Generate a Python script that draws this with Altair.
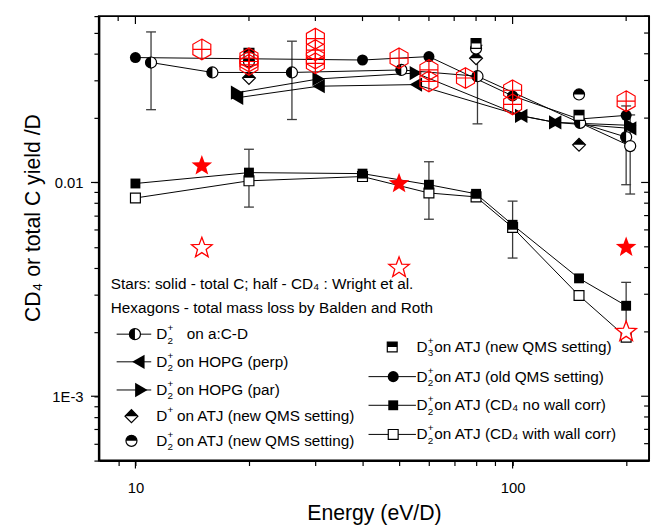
import math
import altair as alt
import pandas as pd

# ---------------- data ----------------
acd_E = [11, 16, 26, 50.7, 80.7, 151, 200]
acd_Y = [0.0364, 0.0327, 0.0327, 0.0336, 0.0314, 0.0190, 0.0163]
acd2_E = [151, 205]
acd2_Y = [0.0190, 0.0148]
old_E = [10, 40, 60, 100, 150, 200]
old_Y = [0.0384, 0.0374, 0.0388, 0.0254, 0.0198, 0.0206]
hopg_E = [18.6, 30.6, 55.4, 105.4, 129.7, 205]
perp_Y = [0.0249, 0.0282, 0.0287, 0.0205, 0.0191, 0.0179]
par_Y = [0.0263, 0.0305, 0.0325, 0.0205, 0.0191, 0.0185]
atj_E = [10, 20, 40, 60, 80, 100, 150, 200]
nowall_Y = [0.00989, 0.01112, 0.01100, 0.00976, 0.00885, 0.00634, 0.00356, 0.00265]
wall_Y = [0.00846, 0.01018, 0.01066, 0.00893, 0.00856, 0.00616, 0.00296, 0.00189]
new_E = [20, 80, 150]
d3_Y = [0.0402, 0.0447, 0.0206]
d2new_Y = [0.0368, 0.0423, 0.0258]
d1_Y = [0.0308, 0.0381, 0.0150]
wright_E = [15, 50, 200]
wrightC_Y = [0.01207, 0.00997, 0.00502]
wrightCD4_Y = [0.00498, 0.00403, 0.00202]
hex_E = [15, 20, 20, 20, 30, 30, 30, 30, 50, 60, 60, 75, 100, 100, 200]
hex_Y = [0.0419, 0.0381, 0.0368, 0.0355, 0.0471, 0.0416, 0.0380, 0.0361,
         0.0381, 0.0336, 0.0297, 0.0308, 0.0270, 0.0232, 0.0240]
err_E = [11, 26, 80.7, 200, 205, 20, 60, 100, 200]
err_lo = [0.0219, 0.0197, 0.0188, 0.00976, 0.00883, 0.00767, 0.00673, 0.00443, 0.00189]
err_hi = [0.0506, 0.0458, 0.0438, 0.0228, 0.0207, 0.0143, 0.0125, 0.00818, 0.00341]

x_ticks = [9, 10, 20, 30, 40, 50, 60, 70, 80, 90, 100, 200]
x_major = [10, 100]
x_labels = {10: "10", 100: "100"}
y_ticks = [0.0005, 0.0006, 0.0007, 0.0008, 0.0009, 0.001, 0.002, 0.003, 0.004, 0.005,
           0.006, 0.007, 0.008, 0.009, 0.01, 0.02, 0.03, 0.04, 0.05, 0.06]
y_major = [0.001, 0.01]
y_labels = {0.01: "0.01", 0.001: "1E-3"}

# ---------------- styling ----------------
W, H = 557, 450
FONT = "Liberation Sans"
RED = "#ff0000"
FS = 15.5

HALF_LEFT = "M0,-1A1,1,0,0,0,0,1Z"
HALF_TOP_CIRCLE = "M-1,0A1,1,0,0,1,1,0Z"
HALF_TOP_SQUARE = "M-1,-1L1,-1L1,0L-1,0Z"
HALF_TOP_DIAMOND = "M-1,0L0,-1L1,0Z"
HEX = ("M0,-1L0.866,-0.5L0.866,0.5L0,1L-0.866,0.5L-0.866,-0.5Z"
       "M0,-1L0,1M-0.866,0L0.866,0")
_pts = []
for i in range(10):
    r = 1.0 if i % 2 == 0 else 0.42
    a = -math.pi / 2 + i * math.pi / 5
    _pts.append(f"{r*math.cos(a):.3f},{r*math.sin(a)+0.08:.3f}")
STAR = "M" + "L".join(_pts) + "Z"


def lab_expr(d):
    s = "''"
    for k, v in d.items():
        s = f"datum.value == {k} ? '{v}' : ({s})"
    return s


xs = alt.Scale(type="log", domain=[8, 230], nice=False)
ys = alt.Scale(type="log", domain=[0.0005, 0.06], nice=False)

common_axis = dict(tickSize=5, tickWidth=1.2, tickColor="black", domainColor="black",
                   domainWidth=2, grid=False, labelFont=FONT, labelFontSize=15,
                   labelColor="black", labelOverlap=False, labelFlush=False,
                   titleFont=FONT, titleFontWeight="normal", titleColor="black")
xaxis = alt.Axis(values=x_ticks, labelExpr=lab_expr(x_labels), title="Energy (eV/D)",
                 labelPadding=15, titleFontSize=21.5, titleY=60,
                 titleBaseline="alphabetic", **common_axis)
yaxis = alt.Axis(values=y_ticks, labelExpr=lab_expr(y_labels),
                 title="CD\u2084 or total C yield /D", labelPadding=11,
                 titleFontSize=21.5, titleX=-60, titleY=204, titleAngle=270,
                 titleBaseline="alphabetic", titleAlign="center", **common_axis)


def X(f="E"):
    return alt.X(f"{f}:Q", scale=xs, axis=xaxis)


def Y(f="Y"):
    return alt.Y(f"{f}:Q", scale=ys, axis=yaxis)


def df(E, Yv):
    return pd.DataFrame({"E": E, "Y": Yv})


MARKERS = {
    "acd": [dict(shape="circle", size=125, filled=True, fill="white", stroke="black", strokeWidth=1.2),
            dict(shape=HALF_LEFT, size=125, filled=True, color="black")],
    "open": [dict(shape="circle", size=125, filled=True, fill="white", stroke="black", strokeWidth=1.2)],
    "old": [dict(shape="circle", size=125, filled=True, color="black")],
    "nowall": [dict(shape="square", size=100, filled=True, color="black")],
    "wall": [dict(shape="square", size=100, filled=True, fill="white", stroke="black", strokeWidth=1.2)],
    "perp": [dict(shape="triangle-left", size=210, filled=True, color="black")],
    "par": [dict(shape="triangle-right", size=210, filled=True, color="black")],
    "d1": [dict(shape="diamond", size=170, filled=True, fill="white", stroke="black", strokeWidth=1.2),
           dict(shape=HALF_TOP_DIAMOND, size=170, filled=True, color="black")],
    "d2new": [dict(shape="circle", size=125, filled=True, fill="white", stroke="black", strokeWidth=1.2),
              dict(shape=HALF_TOP_CIRCLE, size=125, filled=True, color="black")],
    "d3": [dict(shape="square", size=100, filled=True, fill="white", stroke="black", strokeWidth=1.2),
           dict(shape=HALF_TOP_SQUARE, size=100, filled=True, color="black")],
    "starC": [dict(shape=STAR, size=480, filled=True, color=RED)],
    "starCD4": [dict(shape=STAR, size=480, filled=True, fill="white", stroke=RED, strokeWidth=1.3)],
    "hex": [dict(shape=HEX, size=440, filled=False, color=RED, strokeWidth=1.2)],
}

layers = []

# ---- frame ticks (top/right inward, majors longer) ----
x_minor = [t for t in x_ticks if t not in x_major]
y_minor = [t for t in y_ticks if t not in y_major]
for vals, ln in ((x_minor, 5), (x_major, 8)):
    layers.append(alt.Chart(pd.DataFrame({"E": vals})).mark_rule(color="black", strokeWidth=1.2)
                  .encode(x=X(), y=alt.value(0), y2=alt.value(ln)))
for vals, ln in ((y_minor, 5), (y_major, 8)):
    layers.append(alt.Chart(pd.DataFrame({"Y": vals})).mark_rule(color="black", strokeWidth=1.2)
                  .encode(y=Y(), x=alt.value(W), x2=alt.value(W - ln)))
layers.append(alt.Chart(pd.DataFrame({"E": x_major})).mark_rule(color="black", strokeWidth=1.2)
              .encode(x=X(), y=alt.value(H), y2=alt.value(H + 8)))
layers.append(alt.Chart(pd.DataFrame({"Y": y_major})).mark_rule(color="black", strokeWidth=1.2)
              .encode(y=Y(), x=alt.value(0), x2=alt.value(-8)))

# ---- error bars ----
err = pd.DataFrame({"E": err_E, "lo": err_lo, "hi": err_hi})
layers.append(alt.Chart(err).mark_rule(color="#3a3a3a", strokeWidth=1.3)
              .encode(x=X(), y=Y("lo"), y2="hi:Q"))
for f in ("lo", "hi"):
    layers.append(alt.Chart(err).mark_tick(orient="horizontal", color="#3a3a3a", size=10,
                                           thickness=1.3, opacity=1)
                  .encode(x=X(), y=Y(f)))

# ---- connecting lines ----
for E, Yv in ((acd_E, acd_Y), (acd2_E, acd2_Y), (old_E, old_Y), (hopg_E, perp_Y),
              (hopg_E, par_Y), (atj_E, nowall_Y), (atj_E, wall_Y)):
    layers.append(alt.Chart(df(E, Yv)).mark_line(color="black", strokeWidth=1)
                  .encode(x=X(), y=Y()))

# ---- markers ----
series = [
    (atj_E, wall_Y, "wall"), (atj_E, nowall_Y, "nowall"),
    (hopg_E, perp_Y, "perp"), (hopg_E, par_Y, "par"),
    (old_E, old_Y, "old"), (acd_E, acd_Y, "acd"), (acd2_E[1:], acd2_Y[1:], "open"),
    (new_E, d1_Y, "d1"), (new_E, d2new_Y, "d2new"), (new_E, d3_Y, "d3"),
    (wright_E, wrightC_Y, "starC"), (wright_E, wrightCD4_Y, "starCD4"),
    (hex_E, hex_Y, "hex"),
]
for E, Yv, kind in series:
    for mk in MARKERS[kind]:
        layers.append(alt.Chart(df(E, Yv)).mark_point(opacity=1, **mk).encode(x=X(), y=Y()))

# ---- annotation text and legend ----
ONE = alt.Data(values=[{"k": 0}])


def text(s, x, y, size=FS):
    return alt.Chart(ONE).mark_text(text=s, font=FONT, fontSize=size, align="left",
                                    baseline="middle", color="black").encode(
        x=alt.value(x), y=alt.value(y))


layers.append(text("Stars: solid - total C; half - CD\u2084 :  Wright et al.", 12, 271))
layers.append(text("Hexagons - total mass loss by Balden and Roth", 12, 296))

legend_rows = [
    # kind, symbol x, row y, line (x1, x2) or None, text x, sup, sub, rest, rest dx
    ("acd", 36.5, 322, (18, 53), 58, "+", "2", "on a:C-D", 31),
    ("perp", 40, 350, (18, 53), 58, "+", "2", "on HOPG (perp)", 21),
    ("par", 43, 378.5, (18, 53), 58, "+", "2", "on HOPG (par)", 21),
    ("d1", 33, 405, None, 58, "+", "", "on ATJ (new QMS setting)", 21),
    ("d2new", 33, 430, None, 58, "+", "2", "on ATJ (new QMS setting)", 21),
    ("d3", 297, 335, None, 321.5, "+", "3", "on ATJ (new QMS setting)", 18),
    ("old", 298, 365, (273, 321), 321.5, "+", "2", "on ATJ (old QMS setting)", 18),
    ("nowall", 298, 394, (273, 321), 321.5, "+", "2", "on ATJ (CD\u2084 no wall corr)", 18),
    ("wall", 298, 423.5, (273, 321), 321.5, "+", "2", "on ATJ (CD\u2084 with wall corr)", 18),
]
for kind, sx, ry, line, tx, sup, sub, rest, rdx in legend_rows:
    if line:
        layers.append(alt.Chart(ONE).mark_rule(color="black", strokeWidth=1).encode(
            x=alt.value(line[0]), x2=alt.value(line[1]), y=alt.value(ry)))
    for mk in MARKERS[kind]:
        layers.append(alt.Chart(ONE).mark_point(opacity=1, **mk).encode(
            x=alt.value(sx), y=alt.value(ry)))
    layers.append(text("D", tx, ry))
    layers.append(text(sup, tx + 11.5, ry - 6, 10))
    if sub:
        layers.append(text(sub, tx + 11.5, ry + 6.5, 10))
    layers.append(text(rest, tx + rdx, ry))

chart = alt.layer(*layers).properties(
    width=W, height=H, autosize="none",
    padding={"left": 92, "top": 5, "right": 3, "bottom": 63},
).configure_view(stroke="black", strokeWidth=2, fill="white")

chart.save("out.html", embed_options={"renderer": "svg", "actions": False})
